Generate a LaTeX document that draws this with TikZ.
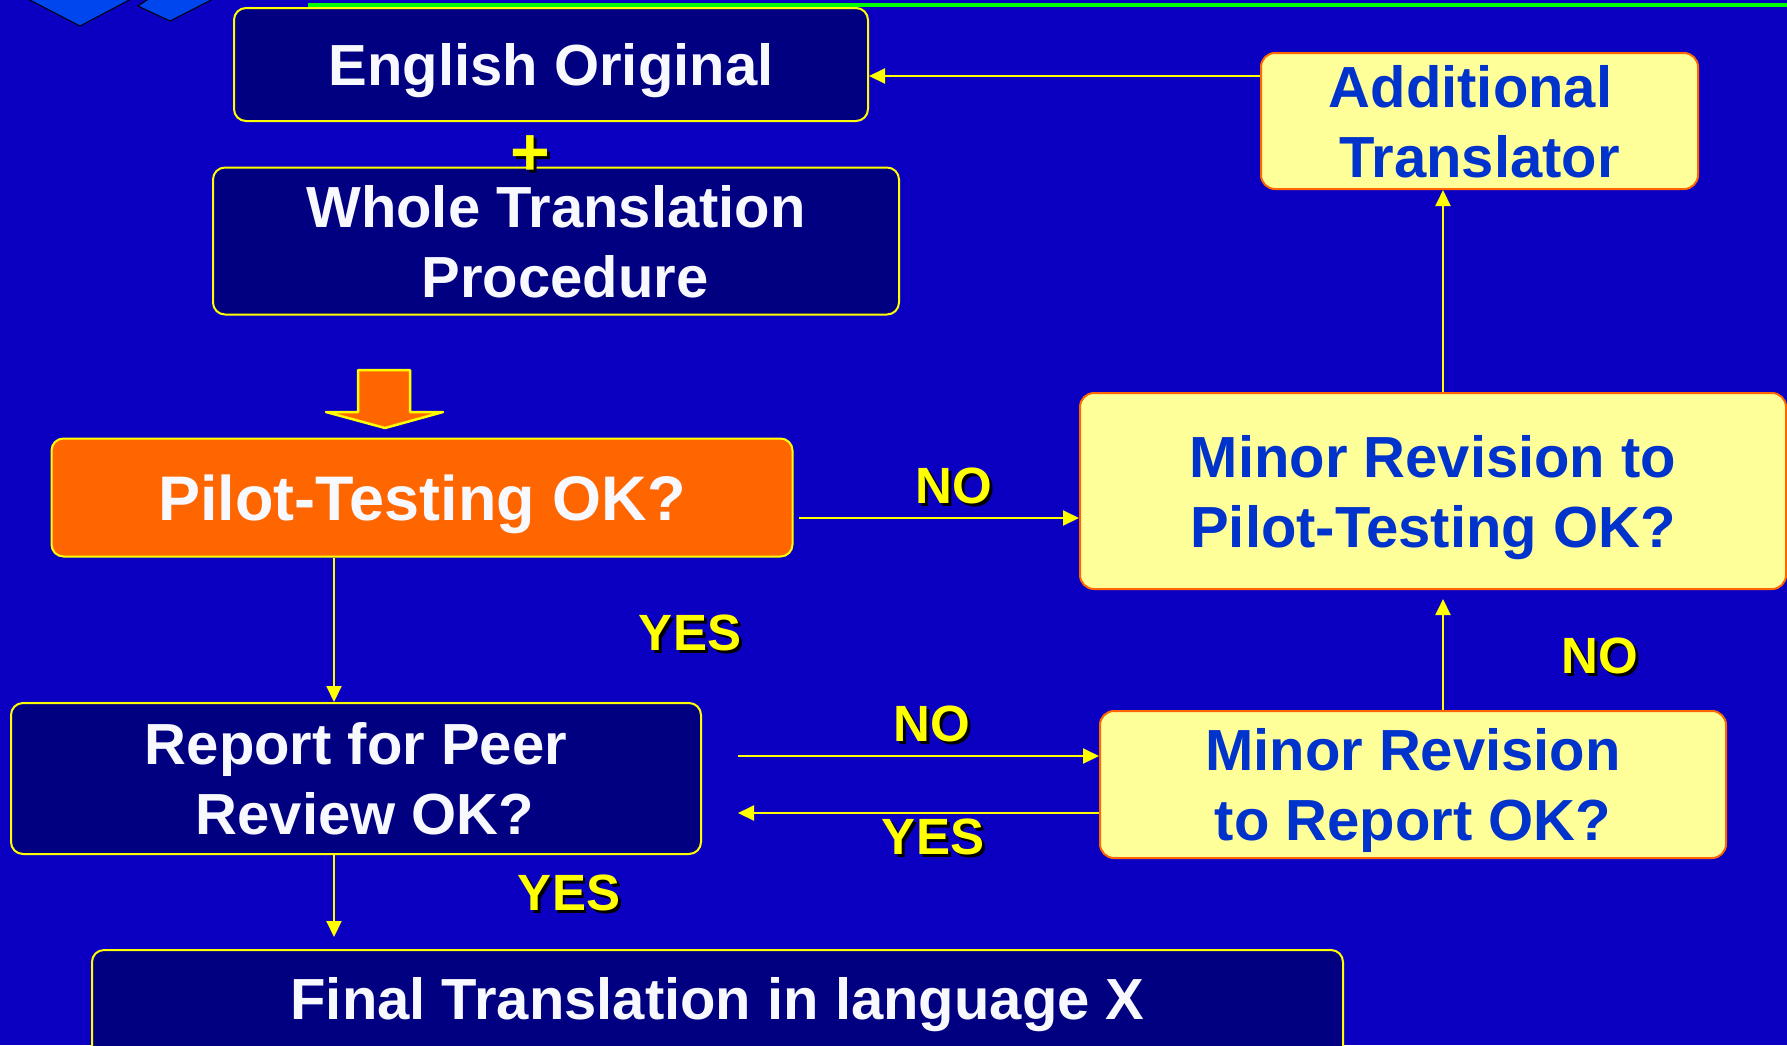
\documentclass[tikz,border=0pt]{standalone}
\usepackage{fontspec}
\setmainfont{Liberation Sans}
\usepackage{xcolor}
\usetikzlibrary{positioning, arrows.meta, calc}

\definecolor{slideblue}{RGB}{11,0,194}
\definecolor{navybox}{RGB}{0,0,128}
\definecolor{pilotorange}{RGB}{255,102,0}
\definecolor{paleyellow}{RGB}{255,255,153}
\definecolor{boxtext}{RGB}{0,51,204}
\definecolor{linkyellow}{RGB}{255,255,0}
\definecolor{logoblue}{RGB}{0,70,238}
\definecolor{rulegreen}{RGB}{0,255,0}
\definecolor{paletext}{RGB}{248,248,255}

\begin{document}
\begin{tikzpicture}[x=1pt, y=-1pt,
  darkbox/.style={draw=linkyellow, line width=2pt, fill=navybox, rounded corners=12pt,
    text=paletext, font=\fontsize{58}{70}\selectfont\bfseries, align=center,
    inner sep=0pt, text depth=0pt},
  pilotbox/.style={darkbox, fill=pilotorange, font=\fontsize{63}{70}\selectfont\bfseries},
  palebox/.style={draw=pilotorange, line width=2pt, fill=paleyellow, rounded corners=14pt,
    text=boxtext, font=\fontsize{58}{70}\selectfont\bfseries, align=center,
    inner sep=0pt, text depth=0pt},
  flow/.style={draw=linkyellow, line width=2pt, -{Triangle[length=16pt, width=15pt]}},
  answer/.style={text=linkyellow, font=\fontsize{51}{51}\selectfont\bfseries, inner sep=0pt},
  answershadow/.style={answer, text=black}]

\useasboundingbox (0,0) rectangle (1787,1045);
\fill[slideblue] (0,0) rectangle (1787,1045);
\clip (0,0) rectangle (1787,1045);

% slide decoration
\fill[logoblue, draw=black, line width=1pt] (26,-2) -- (80,26) -- (133,-2);
\fill[logoblue, draw=black, line width=1pt] (150,-2) -- (138,6) -- (170,21) -- (215,-2);
\fill[rulegreen] (308,3) rectangle (1787,7);

% boxes
\node[darkbox, minimum width=634pt, minimum height=113pt] (eng) at (551,64.5) {English Original};
\node[darkbox, minimum width=686pt, minimum height=147pt] (whole) at (556,241) {Whole Translation\\\hspace*{18pt}Procedure};
\node[pilotbox, minimum width=741pt, minimum height=118pt] (pilot) at (422,497.5) {Pilot-Testing OK?};
\node[darkbox, minimum width=690pt, minimum height=151pt] (report) at (356,778.5) {Report for Peer\\\hspace*{18pt}Review OK?};
\node[darkbox, anchor=north, minimum width=1251pt, text height=69pt, text depth=52pt] (final) at (717.5,949) {Final Translation in language X};

\node[palebox, minimum width=437pt, minimum height=136pt] (addtr) at (1479.5,121) {Additional\hspace*{18pt}\\Translator};
\node[palebox, minimum width=706pt, minimum height=196pt] (minpil) at (1433,491) {Minor Revision to\\Pilot-Testing OK?};
\node[palebox, minimum width=626pt, minimum height=147pt] (minrep) at (1413,784.5) {Minor Revision\\to Report OK?};

% block arrow
\draw[draw=linkyellow, line width=2.5pt, line join=round, fill=pilotorange] (358,370) -- (410,370) -- (410,412) -- (443,412) -- (385,428) -- (326,412) -- (358,412) -- cycle;

% plus sign
\node[answershadow, font=\fontsize{68}{68}\selectfont\bfseries] (plus-s) at (533,159) {+};
\node[answer, font=\fontsize{68}{68}\selectfont\bfseries] (plus) at (530,156) {+};

% connectors
\coordinate (toprow) at (0,76);
\coordinate (norow) at (0,518);
\coordinate (reqrow) at (0,756);
\coordinate (backrow) at (0,813);
\coordinate (leftcol) at (334,0);
\coordinate (rightcol) at (1443,0);

\draw[flow] (addtr.west |- toprow) -- (eng.east |- toprow);
\draw[flow] (minpil.north -| rightcol) -- (addtr.south -| rightcol);
\draw[flow, shorten <=5pt] (pilot.east |- norow) -- (minpil.west |- norow);
\draw[flow] (pilot.south -| leftcol) -- (report.north -| leftcol);
\draw[flow, shorten <=36pt] (report.east |- reqrow) -- (minrep.west |- reqrow);
\draw[flow, shorten >=36pt] (minrep.west |- backrow) -- (report.east |- backrow);
\draw[flow, shorten >=9pt] (minrep.north -| rightcol) -- (minpil.south -| rightcol);
\draw[flow, shorten >=12pt] (report.south -| leftcol) -- (final.north -| leftcol);

% answers
\node[answershadow] (nopil-s) at (957,489) {NO};
\node[answer] (nopil) at (954,486) {NO};
\node[answershadow] (yespil-s) at (693,636) {YES};
\node[answer] (yespil) at (690,633) {YES};
\node[answershadow] (norep-s) at (935,727) {NO};
\node[answer] (norep) at (932,724) {NO};
\node[answershadow] (yesrep-s) at (936,840) {YES};
\node[answer] (yesrep) at (933,837) {YES};
\node[answershadow] (nominrep-s) at (1603,659) {NO};
\node[answer] (nominrep) at (1600,656) {NO};
\node[answershadow] (yesfin-s) at (572,896) {YES};
\node[answer] (yesfin) at (569,893) {YES};
\end{tikzpicture}
\end{document}
